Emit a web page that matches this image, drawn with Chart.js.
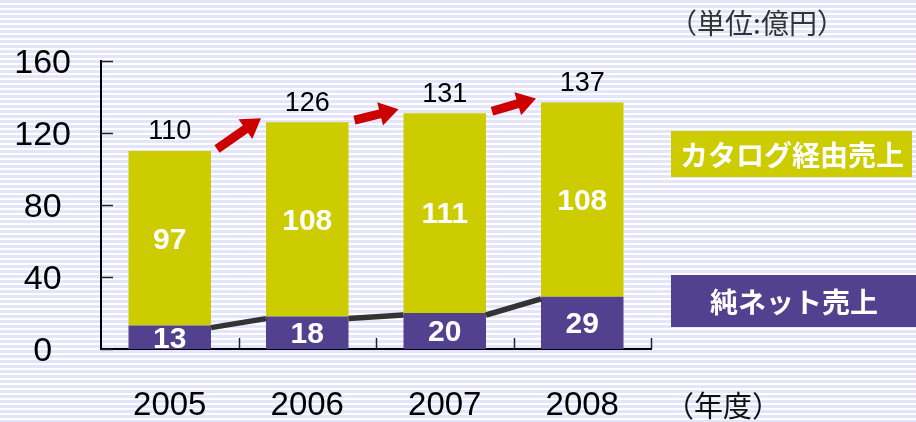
<!DOCTYPE html>
<html>
<head>
<meta charset="utf-8">
<script src="https://cdn.jsdelivr.net/npm/chart.js@4.4.1/dist/chart.umd.min.js"></script>
<style>
html,body{margin:0;padding:0;background:#fff;}
#wrap{width:916px;height:422px;position:relative;}
</style>
</head>
<body>
<div id="wrap"><canvas id="myChart1"></canvas></div>
<script>
// values (億円)
const years = ["2005", "2006", "2007", "2008"];
const netSales = [13, 18, 20, 29];
const catalogSales = [97, 108, 111, 108];
const totals = [110, 126, 131, 137];
const yTicks = [0, 40, 80, 120, 160];
const seriesNames = ["純ネット売上", "カタログ経由売上"];
const unitLabel = "（単位:億円）";
const yearLabel = "（年度）";

const purple = "#51418e";
const olive = "#cccc00";
const jp = "'Noto Sans CJK JP', 'Noto Sans', sans-serif";
const num = "'Liberation Sans', Arial, sans-serif";

const myChart1 = document.getElementById("myChart1");

function arrow(ctx, x1, y1, x2, y2) {
  const ang = Math.atan2(y2 - y1, x2 - x1);
  const head = 19, half = 12;
  const bx = x2 - head * Math.cos(ang), by = y2 - head * Math.sin(ang);
  ctx.strokeStyle = "#cc0000";
  ctx.fillStyle = "#cc0000";
  ctx.lineWidth = 9;
  ctx.beginPath();
  ctx.moveTo(x1, y1);
  ctx.lineTo(bx + 2 * Math.cos(ang), by + 2 * Math.sin(ang));
  ctx.stroke();
  ctx.beginPath();
  ctx.moveTo(x2, y2);
  ctx.lineTo(bx + half * Math.sin(ang), by - half * Math.cos(ang));
  ctx.lineTo(bx - half * Math.sin(ang), by + half * Math.cos(ang));
  ctx.closePath();
  ctx.fill();
}

const decor = {
  id: "decor",
  beforeDraw(chart) {
    const ctx = chart.ctx;
    ctx.save();
    ctx.fillStyle = "#fff";
    ctx.fillRect(0, 0, chart.width, chart.height);
    ctx.fillStyle = "#e4e4fb";
    for (let y = 0; y < chart.height; y += 5) ctx.fillRect(0, y, chart.width, 3);
    ctx.restore();
  },
  afterDatasetsDraw(chart) {
    const ctx = chart.ctx;
    const ys = chart.scales.y;
    const area = chart.chartArea;
    const net = chart.getDatasetMeta(0).data;
    const cat = chart.getDatasetMeta(1).data;
    ctx.save();

    // grey line joining the net sales tops
    ctx.strokeStyle = "#333";
    ctx.lineWidth = 5.5;
    for (let i = 0; i < net.length - 1; i++) {
      const a = net[i], b = net[i + 1];
      ctx.beginPath();
      ctx.moveTo(a.x + a.width / 2, a.y + 2);
      ctx.lineTo(b.x - b.width / 2, b.y + 2);
      ctx.stroke();
    }

    // red growth arrows
    for (let i = 0; i < cat.length - 1; i++) {
      const a = cat[i], b = cat[i + 1];
      arrow(ctx, a.x + a.width / 2 + 6, ys.getPixelForValue(totals[i]) - 2,
        b.x - b.width / 2 - 5, ys.getPixelForValue(totals[i + 1]) - 4);
    }

    // inward ticks
    ctx.strokeStyle = "#222";
    ctx.lineWidth = 1.5;
    yTicks.forEach(v => {
      const py = Math.round(ys.getPixelForValue(v)) + 0.5;
      ctx.beginPath();
      ctx.moveTo(area.left, py);
      ctx.lineTo(area.left + 12, py);
      ctx.stroke();
    });
    const step = (area.right - area.left) / years.length;
    for (let i = 1; i <= years.length; i++) {
      const px = Math.round(area.left + step * i) + 0.5;
      ctx.beginPath();
      ctx.moveTo(px, area.bottom);
      ctx.lineTo(px, area.bottom - 11);
      ctx.stroke();
    }

    // value labels
    ctx.textAlign = "center";
    ctx.textBaseline = "middle";
    ctx.fillStyle = "#fff";
    ctx.font = "bold 30px " + num;
    net.forEach((el, i) => {
      ctx.fillText(String(netSales[i]), el.x, (el.y + el.base) / 2 + 2);
    });
    cat.forEach((el, i) => {
      ctx.fillText(String(catalogSales[i]), el.x, (el.y + el.base) / 2 + 2);
    });
    ctx.fillStyle = "#000";
    ctx.font = "27px " + num;
    cat.forEach((el, i) => {
      ctx.fillText(String(totals[i]), el.x, ys.getPixelForValue(totals[i]) - 19);
    });

    // series boxes
    ctx.fillStyle = olive;
    ctx.fillRect(671, 131, 241, 46);
    ctx.fillStyle = purple;
    ctx.fillRect(671, 275, 245, 52);
    ctx.fillStyle = "#fff";
    ctx.font = "bold 28px " + jp;
    ctx.fillText(seriesNames[1], 792, 155);
    ctx.fillText(seriesNames[0], 794, 302);

    // unit and year notes
    ctx.fillStyle = "#333";
    ctx.font = "28px " + jp;
    ctx.fillText(unitLabel, 757, 23);
    ctx.fillStyle = "#111";
    ctx.font = "29px " + jp;
    ctx.fillText(yearLabel, 723, 406);
    ctx.restore();
  }
};

new Chart(myChart1, {
  type: "bar",
  data: {
    labels: years,
    datasets: [
      { label: seriesNames[0], data: netSales, backgroundColor: purple },
      { label: seriesNames[1], data: catalogSales, backgroundColor: olive }
    ]
  },
  options: {
    responsive: true,
    maintainAspectRatio: false,
    animation: false,
    events: [],
    categoryPercentage: 1,
    barPercentage: 0.6,
    layout: { padding: { top: 61, right: 265, bottom: 0, left: 0 } },
    plugins: { legend: { display: false }, tooltip: { enabled: false } },
    scales: {
      x: {
        stacked: true,
        grid: { display: false, drawTicks: false },
        border: { display: true, color: "#000", width: 2 },
        ticks: { color: "#000", font: { family: num, size: 33 }, padding: 37 },
        afterFit(s) { s.height = 73; }
      },
      y: {
        stacked: true,
        min: 0,
        max: 160,
        afterBuildTicks(s) { s.ticks = yTicks.map(v => ({ value: v })); },
        grid: { display: false, drawTicks: false },
        border: { display: true, color: "#000", width: 2 },
        ticks: { color: "#000", font: { family: num, size: 34 }, crossAlign: "center", padding: 30, labelOffset: 3 },
        afterFit(s) { s.width = 101; }
      }
    }
  },
  plugins: [decor]
});
</script>
</body>
</html>
